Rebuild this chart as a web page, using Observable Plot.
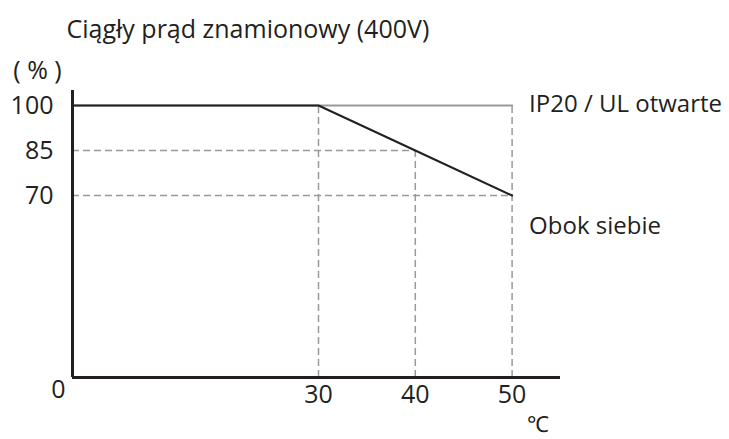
<!DOCTYPE html>
<html>
<head>
<meta charset="utf-8">
<script src="https://cdn.jsdelivr.net/npm/d3@7"></script>
<script src="https://cdn.jsdelivr.net/npm/@observablehq/plot@0.6"></script>
<style>
  html, body { margin: 0; padding: 0; background: #fff; }
  #chart svg { display: block; }
</style>
</head>
<body>
<div id="chart"></div>
<script>
// Data
const title = "Ciągły prąd znamionowy (400V)";
const temps = [0, 30, 40, 50];                 // °C
const ip20Open = [100, 100, 100, 100];         // % – IP20 / UL otwarte
const sideBySide = [100, 100, 85, 70];         // % – Obok siebie
const seriesNames = ["IP20 / UL otwarte", "Obok siebie"];
const xTicks = [30, 40, 50];
const yTicks = [100, 85, 70];
const guideX = [30, 40, 50];
const guideXTop = [100, 85, 100];
const guideY = [85, 70];
const guideYRight = [40, 50];
const yUnit = "( % )";
const xUnit = "℃";

const ip20 = temps.map((t, i) => ({t, p: ip20Open[i]}));
const side = temps.map((t, i) => ({t, p: sideBySide[i]}));
const vGuides = guideX.map((t, i) => ({t, top: guideXTop[i]}));
const hGuides = guideY.map((p, i) => ({p, right: guideYRight[i]}));

const font = "'Open Sans', sans-serif";
const dash = "7,4";
const gray = "#999";
const ink = "#231f20";

const chart = Plot.plot({
  width: 729,
  height: 439,
  margin: 0,
  style: {fontFamily: font, background: "#fff"},
  x: {type: "linear", domain: [0, 30, 55], range: [72, 318, 560], axis: null},
  y: {type: "linear", domain: [0, 70, 105], range: [377, 195, 90], axis: null},
  marks: [
    // dashed guides
    Plot.ruleX(vGuides, {x: "t", y1: 0, y2: "top", stroke: gray, strokeWidth: 1.5, strokeDasharray: dash}),
    Plot.ruleY(hGuides, {y: "p", x1: 0, x2: "right", stroke: gray, strokeWidth: 1.5, strokeDasharray: dash}),
    // series
    Plot.line(ip20, {x: "t", y: "p", stroke: gray, strokeWidth: 2}),
    Plot.line(side, {x: "t", y: "p", stroke: ink, strokeWidth: 2}),
    // axes
    Plot.ruleX([0], {y1: 0, y2: 105, stroke: ink, strokeWidth: 3}),
    Plot.ruleY([0], {x1: 0, x2: 55, stroke: ink, strokeWidth: 3}),
    // tick labels
    Plot.text(yTicks, {x: 0, y: d => d, text: d => String(d), textAnchor: "end", dx: -19, fontSize: 25, fill: ink}),
    Plot.text(xTicks, {x: d => d, y: 0, text: d => String(d), dy: 17, fontSize: 25, fill: ink}),
    Plot.text([0], {x: 0, y: 0, text: d => String(d), dx: -14, dy: 12, fontSize: 25, fill: ink}),
    // units
    Plot.text([yUnit], {x: 0, y: 105, text: d => d, dx: -35, dy: -20, fontSize: 25, fill: ink}),
    Plot.text([xUnit], {x: 50, y: 0, text: d => d, dx: 26, dy: 47, fontSize: 22, fill: ink}),
    // series labels
    Plot.text([seriesNames[0]], {x: 50, y: 100, text: d => d, textAnchor: "start", dx: 17, dy: -1, fontSize: 24, fill: ink}),
    Plot.text([seriesNames[1]], {x: 50, y: 70, text: d => d, textAnchor: "start", dx: 17, dy: 31, fontSize: 24, fill: ink}),
    // title
    Plot.text([title], {frameAnchor: "top-left", text: d => d, textAnchor: "start", lineAnchor: "middle", dx: 66, dy: 29, fontSize: 25, fill: ink})
  ]
});
document.getElementById("chart").appendChild(chart);
</script>
</body>
</html>
